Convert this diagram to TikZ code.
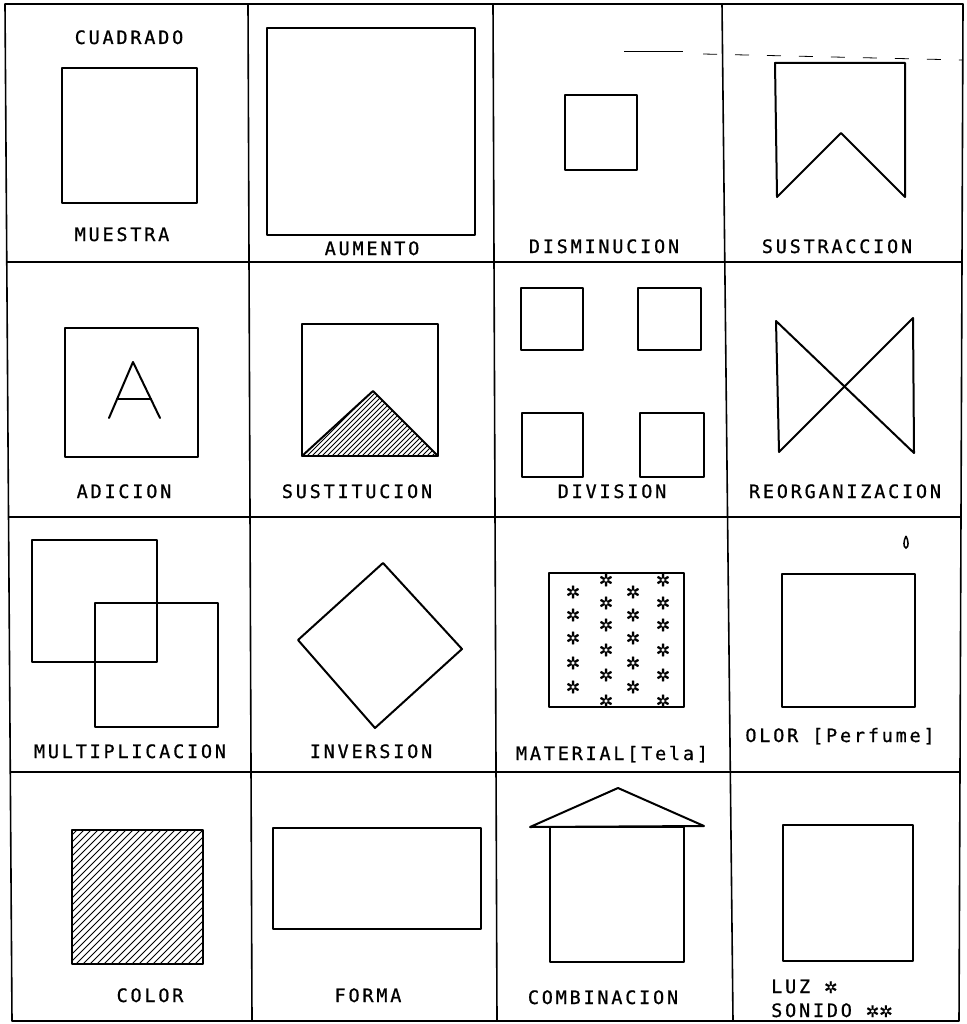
\documentclass[tikz,border=0pt]{standalone}
\usepackage{fontspec}
\newfontfamily\pltfont[LetterSpace=15,FakeBold=0.8]{DejaVu Sans Mono}
\newfontfamily\symfont[FakeBold=1]{DejaVu Sans}
\tikzset{
  gridline/.style={line width=1.6pt, line join=round},
  shp/.style={line width=2pt, line join=round, line cap=round},
  hatchln/.style={line width=0.9pt},
  lbl/.style={font=\pltfont\fontsize{18.5}{19}\selectfont, anchor=base, inner sep=0pt},
  lbll/.style={lbl, anchor=base west},
  starnode/.style={font=\symfont\fontsize{17}{17}\selectfont, inner sep=0pt},
}
\begin{document}
\begin{tikzpicture}[x=1pt,y=-1pt]
\useasboundingbox (0,0) rectangle (966,1024);
\fill[white] (0,0) rectangle (966,1024);

% ---- grid ----
\draw[gridline] (5,4) -- (963,4) -- (959,1021) -- (12,1021) -- cycle;
\draw[gridline] (248,4) -- (252,1021);
\draw[gridline] (493,4) -- (497,1021);
\draw[gridline] (722,4) -- (733,1021);
\draw[gridline] (6,262) -- (962,262);
\draw[gridline] (8,517) -- (961,517);
\draw[gridline] (10,772) -- (960,772);

% ---- row 1 ----
\node[lbl] (cuadrado) at (129,44) {CUADRADO};
\draw[shp] (62,68) rectangle (197,203);
\node[lbl] (muestra) at (122,241) {MUESTRA};

\draw[shp] (267,28) rectangle (475,235);
\node[lbl] (aumento) at (372,255) {AUMENTO};

\draw[line width=1pt] (624,52) -- (683,52);
\draw[line width=0.8pt, dash pattern=on 14pt off 18pt] (703,54) -- (963,60);
\draw[shp] (565,95) rectangle (637,170);
\node[lbl] (disminucion) at (604,253) {DISMINUCION};

\draw[shp] (777,197) -- (775,63) -- (905,63) -- (905,197) -- (841,133) -- cycle;
\node[lbl] (sustraccion) at (837,253) {SUSTRACCION};

% ---- row 2 ----
\draw[shp] (65,328) rectangle (198,457);
\draw[shp] (109,418) -- (133,362) -- (160,418);
\draw[shp] (117,399) -- (151,399);
\node[lbl] (adicion) at (124,498) {ADICION};

\draw[shp] (302,324) rectangle (438,456);
\begin{scope}
  \clip (302,456) -- (373,391) -- (438,456) -- cycle;
  \foreach \k in {237,242,...,440} \draw[hatchln] (\k,456) -- ++(66,-66);
\end{scope}
\draw[shp] (302,456) -- (373,391) -- (438,456);
\node[lbl] (sustitucion) at (357,498) {SUSTITUCION};

\draw[shp] (521,288) rectangle (583,350);
\draw[shp] (638,288) rectangle (701,350);
\draw[shp] (522,413) rectangle (583,477);
\draw[shp] (640,413) rectangle (704,477);
\node[lbl] (division) at (612,498) {DIVISION};

\draw[shp] (776,321) -- (914,453) -- (913,318) -- (779,452) -- cycle;
\node[lbl] (reorganizacion) at (845,498) {REORGANIZACION};

% ---- row 3 ----
\draw[shp] (32,540) rectangle (157,662);
\draw[shp] (95,603) rectangle (218,727);
\node[lbl] (multiplicacion) at (130,758) {MULTIPLICACION};

\draw[shp] (383,563) -- (462,649) -- (375,728) -- (298,640) -- cycle;
\node[lbl] (inversion) at (371,758) {INVERSION};

\begin{scope}
  \clip (549,573) rectangle (684,706);
  \foreach \sx/\sy [count=\i] in {573/592,573/615,573/638,573/663,573/687,
      633/592,633/615,633/638,633/663,633/687,
      606/580,606/603,606/625,606/650,606/675,606/701,
      663/580,663/603,663/625,663/650,663/675,663/701}
    \node[starnode] (st\i) at (\sx,\sy) {✲};
\end{scope}
\draw[shp] (549,573) rectangle (684,707);
\node[lbl] (material) at (612,760) {MATERIAL[Tela]};

\draw[line width=1.5pt] (906,536) .. controls (903.5,541) and (903,547) .. (906,548)
   .. controls (909,547) and (908.5,541) .. (906,536);
\draw[shp] (782,574) rectangle (915,707);
\node[lbl] (olor) at (840,742) {OLOR [Perfume]};

% ---- row 4 ----
\begin{scope}
  \clip (72,830) rectangle (203,964);
  \foreach \k in {-64,-57,...,205} \draw[hatchln] (\k,964) -- ++(136,-136);
\end{scope}
\draw[shp] (72,830) rectangle (203,964);
\node[lbl] (color) at (150,1002) {COLOR};

\draw[shp] (273,828) rectangle (481,929);
\node[lbl] (forma) at (368,1002) {FORMA};

\draw[shp] (530,827) -- (618,788) -- (704,826) -- cycle;
\draw[shp] (550,827) rectangle (684,962);
\node[lbl] (combinacion) at (603,1004) {COMBINACION};

\draw[shp] (783,825) rectangle (913,961);
\node[lbll] (luz) at (771,993) {LUZ {\symfont\fontsize{16}{16}\selectfont ✲}};
\node[lbll] (sonido) at (771,1017) {SONIDO {\symfont\fontsize{16}{16}\selectfont ✲✲}};
\end{tikzpicture}
\end{document}
